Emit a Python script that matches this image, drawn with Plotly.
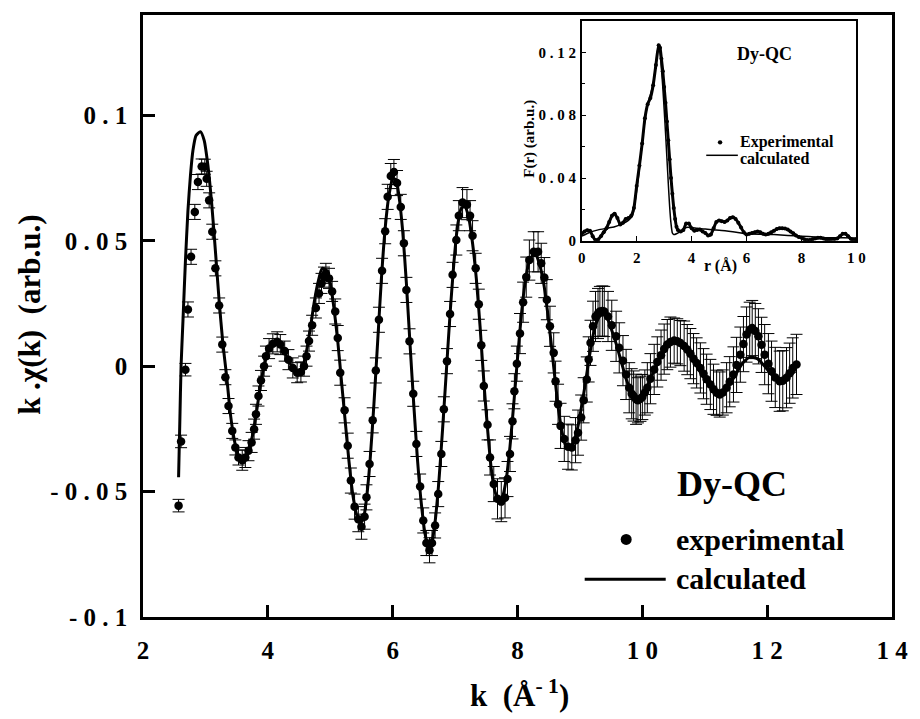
import plotly.graph_objects as go

# ---------------- main panel data: k*chi(k) ----------------
k_exp = [
    2.57, 2.61, 2.68, 2.72, 2.77, 2.83, 2.88, 2.94, 2.99, 3.02, 3.06, 3.11, 3.16, 3.22, 3.27, 3.32, 3.37, 3.43, 3.48, 3.53,
    3.59, 3.64, 3.69, 3.74, 3.78, 3.81, 3.85, 3.89, 3.94, 3.97, 4.02, 4.08, 4.15, 4.20, 4.27, 4.33, 4.40, 4.47, 4.53, 4.58,
    4.62, 4.66, 4.71, 4.77, 4.82, 4.86, 4.90, 4.93, 4.98, 5.03, 5.08, 5.12, 5.16, 5.23, 5.28, 5.33, 5.39, 5.45, 5.50, 5.55,
    5.58, 5.63, 5.68, 5.73, 5.78, 5.83, 5.88, 5.92, 5.97, 6.02, 6.07, 6.13, 6.18, 6.22, 6.27, 6.33, 6.38, 6.44, 6.49, 6.54,
    6.59, 6.63, 6.68, 6.73, 6.78, 6.82, 6.87, 6.92, 6.96, 7.02, 7.06, 7.12, 7.19, 7.24, 7.28, 7.33, 7.38, 7.42, 7.46, 7.52,
    7.56, 7.62, 7.68, 7.74, 7.80, 7.84, 7.88, 7.92, 7.95, 7.99, 8.04, 8.09, 8.14, 8.19, 8.26, 8.33, 8.38, 8.43, 8.47, 8.52,
    8.58, 8.61, 8.65, 8.69, 8.75, 8.81, 8.87, 8.93, 8.97, 9.02, 9.06, 9.11, 9.14, 9.17, 9.21, 9.25, 9.29, 9.32, 9.36, 9.39,
    9.45, 9.51, 9.58, 9.63, 9.69, 9.74, 9.79, 9.83, 9.86, 9.90, 9.93, 9.97, 10.00, 10.04, 10.08, 10.13, 10.19, 10.24, 10.30, 10.35,
    10.40, 10.45, 10.51, 10.56, 10.61, 10.67, 10.72, 10.77, 10.82, 10.87, 10.93, 10.98, 11.03, 11.09, 11.14, 11.19, 11.24, 11.29, 11.35, 11.40,
    11.46, 11.51, 11.57, 11.62, 11.67, 11.72, 11.76, 11.81, 11.86, 11.91, 11.96, 12.02, 12.07, 12.13, 12.20, 12.25, 12.31, 12.36, 12.41, 12.47,
]
chi_exp = [
    -0.0556, -0.0300, -0.0014, 0.0226, 0.0436, 0.0615, 0.0734, 0.0796, 0.0795, 0.0747, 0.0661, 0.0536, 0.0390, 0.0242, 0.0086, -0.0044, -0.0159, -0.0258, -0.0324, -0.0364,
    -0.0375, -0.0364, -0.0337, -0.0304, -0.0251, -0.0192, -0.0119, -0.0057, 0.0000, 0.0040, 0.0070, 0.0089, 0.0097, 0.0086, 0.0060, 0.0026, -0.0007, -0.0026, -0.0023, 0.0000,
    0.0040, 0.0100, 0.0163, 0.0232, 0.0290, 0.0330, 0.0355, 0.0370, 0.0350, 0.0298, 0.0218, 0.0112, -0.0026, -0.0176, -0.0317, -0.0456, -0.0560, -0.0610, -0.0640, -0.0600,
    -0.0523, -0.0390, -0.0216, -0.0017, 0.0185, 0.0380, 0.0538, 0.0675, 0.0758, 0.0774, 0.0730, 0.0635, 0.0490, 0.0304, 0.0099, -0.0110, -0.0310, -0.0480, -0.0615, -0.0705,
    -0.0734, -0.0705, -0.0635, -0.0510, -0.0350, -0.0172, 0.0020, 0.0208, 0.0364, 0.0503, 0.0600, 0.0652, 0.0644, 0.0600, 0.0520, 0.0390, 0.0247, 0.0083, -0.0079, -0.0234,
    -0.0364, -0.0470, -0.0529, -0.0540, -0.0525, -0.0450, -0.0350, -0.0220, -0.0100, 0.0010, 0.0130, 0.0255, 0.0355, 0.0423, 0.0456, 0.0456, 0.0410, 0.0353, 0.0265, 0.0159,
    0.0053, -0.0060, -0.0152, -0.0238, -0.0290, -0.0321, -0.0324, -0.0295, -0.0265, -0.0205, -0.0136, -0.0053, 0.0027, 0.0093, 0.0159, 0.0198, 0.0210, 0.0218, 0.0220, 0.0218,
    0.0198, 0.0163, 0.0119, 0.0073, 0.0022, -0.0033, -0.0086, -0.0110, -0.0119, -0.0132, -0.0136, -0.0130, -0.0123, -0.0105, -0.0086, -0.0050, -0.0013, 0.0017, 0.0044, 0.0068,
    0.0086, 0.0096, 0.0102, 0.0099, 0.0092, 0.0080, 0.0066, 0.0050, 0.0030, 0.0013, -0.0007, -0.0030, -0.0052, -0.0073, -0.0092, -0.0106, -0.0113, -0.0105, -0.0086, -0.0062,
    -0.0033, 0.0005, 0.0046, 0.0088, 0.0126, 0.0145, 0.0152, 0.0140, 0.0119, 0.0085, 0.0046, 0.0010, -0.0020, -0.0045, -0.0060, -0.0058, -0.0046, -0.0028, -0.0007, 0.0007,
]
err_exp = [
    0.0025, 0.0025, 0.0025, 0.003, 0.003, 0.003, 0.003, 0.003, 0.003, 0.003, 0.003, 0.003, 0.003, 0.003, 0.003, 0.003, 0.003, 0.003, 0.003, 0.003,
    0.004, 0.004, 0.004, 0.004, 0.004, 0.004, 0.004, 0.004, 0.004, 0.004, 0.004, 0.004, 0.004, 0.004, 0.004, 0.004, 0.004, 0.004, 0.004, 0.004,
    0.004, 0.004, 0.004, 0.004, 0.004, 0.004, 0.004, 0.004, 0.004, 0.004, 0.005, 0.005, 0.005, 0.005, 0.005, 0.005, 0.005, 0.005, 0.005, 0.005,
    0.005, 0.005, 0.005, 0.005, 0.005, 0.005, 0.005, 0.005, 0.005, 0.005, 0.005, 0.005, 0.005, 0.005, 0.005, 0.005, 0.005, 0.005, 0.005, 0.005,
    0.005, 0.005, 0.005, 0.005, 0.005, 0.005, 0.005, 0.005, 0.005, 0.006, 0.006, 0.006, 0.006, 0.006, 0.006, 0.006, 0.006, 0.006, 0.006, 0.006,
    0.007, 0.007, 0.008, 0.008, 0.008, 0.007, 0.007, 0.007, 0.007, 0.007, 0.008, 0.008, 0.008, 0.008, 0.008, 0.008, 0.008, 0.008, 0.008, 0.008,
    0.008, 0.008, 0.008, 0.009, 0.009, 0.009, 0.009, 0.009, 0.009, 0.009, 0.009, 0.009, 0.009, 0.009, 0.010, 0.010, 0.010, 0.010, 0.010, 0.010,
    0.010, 0.010, 0.010, 0.010, 0.010, 0.010, 0.010, 0.010, 0.010, 0.010, 0.009, 0.009, 0.009, 0.009, 0.010, 0.010, 0.010, 0.010, 0.010, 0.010,
    0.010, 0.010, 0.009, 0.009, 0.009, 0.010, 0.010, 0.010, 0.010, 0.010, 0.010, 0.010, 0.010, 0.010, 0.010, 0.009, 0.009, 0.009, 0.010, 0.010,
    0.011, 0.011, 0.011, 0.011, 0.011, 0.011, 0.011, 0.011, 0.011, 0.011, 0.012, 0.012, 0.012, 0.012, 0.012, 0.012, 0.012, 0.012, 0.012, 0.012,
]

k_calc = [
    2.57, 2.59, 2.61, 2.64, 2.68, 2.72, 2.76, 2.80, 2.85, 2.92, 2.98, 3.04, 3.10, 3.16, 3.22, 3.28, 3.34, 3.40, 3.46, 3.52,
    3.58, 3.64, 3.70, 3.76, 3.82, 3.88, 3.94, 4.00, 4.08, 4.16, 4.24, 4.32, 4.40, 4.48, 4.55, 4.62, 4.68, 4.74, 4.80, 4.87,
    4.94, 5.00, 5.06, 5.12, 5.18, 5.24, 5.30, 5.36, 5.42, 5.48, 5.53, 5.58, 5.64, 5.70, 5.76, 5.82, 5.88, 5.94, 6.00, 6.05,
    6.10, 6.16, 6.22, 6.28, 6.34, 6.40, 6.46, 6.52, 6.58, 6.63, 6.68, 6.74, 6.80, 6.86, 6.92, 6.98, 7.04, 7.10, 7.16, 7.22,
    7.28, 7.34, 7.40, 7.46, 7.52, 7.58, 7.64, 7.70, 7.76, 7.82, 7.88, 7.94, 8.00, 8.06, 8.12, 8.18, 8.24, 8.30, 8.36, 8.42,
    8.48, 8.54, 8.60, 8.66, 8.72, 8.78, 8.84, 8.90, 8.96, 9.02, 9.08, 9.14, 9.20, 9.26, 9.32, 9.38, 9.44, 9.50, 9.58, 9.66,
    9.74, 9.82, 9.90, 9.98, 10.08, 10.20, 10.32, 10.44, 10.56, 10.68, 10.80, 10.92, 11.04, 11.16, 11.26, 11.36, 11.48, 11.60, 11.72, 11.84,
    11.96, 12.08, 12.20, 12.32, 12.45,
]
chi_calc = [
    -0.0443, -0.0220, 0.0000, 0.0180, 0.0420, 0.0620, 0.0760, 0.0860, 0.0920, 0.0935, 0.0900, 0.0800, 0.0650, 0.0460, 0.0260, 0.0090, -0.0040, -0.0190, -0.0290, -0.0355,
    -0.0378, -0.0365, -0.0330, -0.0270, -0.0180, -0.0080, 0.0000, 0.0060, 0.0092, 0.0096, 0.0070, 0.0030, -0.0008, -0.0028, -0.0010, 0.0060, 0.0150, 0.0250, 0.0330, 0.0390,
    0.0380, 0.0330, 0.0230, 0.0100, -0.0060, -0.0220, -0.0380, -0.0510, -0.0590, -0.0625, -0.0610, -0.0530, -0.0370, -0.0150, 0.0100, 0.0350, 0.0550, 0.0680, 0.0745, 0.0745,
    0.0680, 0.0540, 0.0330, 0.0080, -0.0160, -0.0380, -0.0550, -0.0670, -0.0725, -0.0700, -0.0620, -0.0460, -0.0250, -0.0020, 0.0210, 0.0410, 0.0560, 0.0630, 0.0635, 0.0590,
    0.0490, 0.0350, 0.0160, -0.0060, -0.0250, -0.0410, -0.0500, -0.0535, -0.0520, -0.0450, -0.0320, -0.0150, 0.0030, 0.0200, 0.0330, 0.0410, 0.0440, 0.0440, 0.0400, 0.0330,
    0.0220, 0.0090, -0.0050, -0.0180, -0.0270, -0.0320, -0.0325, -0.0300, -0.0250, -0.0170, -0.0080, 0.0020, 0.0110, 0.0170, 0.0200, 0.0205, 0.0190, 0.0150, 0.0090, 0.0020,
    -0.0050, -0.0100, -0.0130, -0.0125, -0.0080, -0.0010, 0.0050, 0.0085, 0.0095, 0.0075, 0.0030, -0.0020, -0.0065, -0.0095, -0.0105, -0.0085, -0.0040, 0.0010, 0.0035, 0.0030,
    0.0000, -0.0035, -0.0050, -0.0045, -0.0020,
]

# ---------------- inset data: F(r) ----------------
r_exp = [
    0.0, 0.1, 0.2, 0.3, 0.4, 0.5, 0.6, 0.7, 0.8, 0.9, 1.0, 1.1, 1.2, 1.3, 1.4, 1.5, 1.6, 1.7, 1.8, 1.9,
    2.0, 2.1, 2.2, 2.3, 2.4, 2.5, 2.6, 2.7, 2.8, 2.85, 2.9, 2.95, 3.0, 3.05, 3.1, 3.15, 3.2, 3.25, 3.3, 3.35,
    3.4, 3.45, 3.5, 3.6, 3.7, 3.8, 3.9, 4.0, 4.1, 4.2, 4.3, 4.4, 4.5, 4.6, 4.7, 4.8, 4.9, 5.0, 5.1, 5.2,
    5.3, 5.4, 5.5, 5.6, 5.7, 5.8, 5.9, 6.0, 6.1, 6.2, 6.3, 6.4, 6.5, 6.6, 6.7, 6.8, 6.9, 7.0, 7.1, 7.2,
    7.3, 7.4, 7.5, 7.6, 7.7, 7.8, 7.9, 8.0, 8.1, 8.2, 8.3, 8.4, 8.5, 8.6, 8.7, 8.8, 8.9, 9.0, 9.1, 9.2,
    9.3, 9.4, 9.5, 9.6, 9.7, 9.8, 9.9, 10.0,
]
F_exp = [
    0.0045, 0.0060, 0.0068, 0.0065, 0.0030, 0.0005, 0.0008, 0.0030, 0.0055, 0.0080, 0.0120, 0.0160, 0.0172, 0.0145, 0.0105, 0.0115, 0.0140, 0.0145, 0.0160, 0.0210,
    0.0350, 0.0480, 0.0620, 0.0780, 0.0870, 0.0910, 0.0990, 0.1120, 0.1245, 0.1230, 0.1160, 0.1080, 0.0980, 0.0880, 0.0760, 0.0640, 0.0520, 0.0400, 0.0300, 0.0210,
    0.0140, 0.0090, 0.0070, 0.0060, 0.0070, 0.0110, 0.0110, 0.0080, 0.0065, 0.0070, 0.0072, 0.0060, 0.0050, 0.0035, 0.0040, 0.0080, 0.0120, 0.0130, 0.0125, 0.0120,
    0.0130, 0.0145, 0.0150, 0.0140, 0.0115, 0.0085, 0.0055, 0.0040, 0.0045, 0.0050, 0.0055, 0.0060, 0.0055, 0.0045, 0.0040, 0.0045, 0.0055, 0.0065, 0.0075, 0.0080,
    0.0080, 0.0078, 0.0072, 0.0060, 0.0048, 0.0035, 0.0025, 0.0020, 0.0010, 0.0005, 0.0005, 0.0010, 0.0015, 0.0020, 0.0020, 0.0015, 0.0010, 0.0010, 0.0012, 0.0012,
    0.0015, 0.0030, 0.0045, 0.0045, 0.0030, 0.0012, 0.0005, 0.0010,
]
r_calc = [
    0.0, 0.3, 0.6, 0.9, 1.2, 1.5, 1.7, 1.85, 2.0, 2.1, 2.2, 2.3, 2.4, 2.5, 2.6, 2.7, 2.78, 2.85, 2.9, 2.95,
    3.0, 3.05, 3.1, 3.15, 3.2, 3.25, 3.3, 3.35, 3.45, 3.6, 3.8, 4.0, 4.2, 4.5, 4.8, 5.0, 5.5, 6.0, 6.5, 7.0,
    7.5, 8.0, 8.5, 9.0, 9.5, 10.0,
]
F_calc = [
    0.0030, 0.0055, 0.0070, 0.0080, 0.0090, 0.0110, 0.0130, 0.0160, 0.0320, 0.0460, 0.0620, 0.0770, 0.0870, 0.0930, 0.1000, 0.1120, 0.1235, 0.1200, 0.1100, 0.0980,
    0.0840, 0.0690, 0.0530, 0.0370, 0.0220, 0.0110, 0.0050, 0.0040, 0.0045, 0.0060, 0.0085, 0.0085, 0.0080, 0.0075, 0.0070, 0.0068, 0.0058, 0.0045, 0.0042, 0.0040,
    0.0035, 0.0030, 0.0025, 0.0020, 0.0020, 0.0018,
]

# ---------------- figure ----------------
FONT = "Liberation Serif"
W, H = 920, 719
ML, MR, MT, MB = 143, 19, 12, 102
PW, PH = W - ML - MR, H - MT - MB


def px(x):
    return (x - ML) / PW


def py(y):
    return (H - MB - y) / PH


fig = go.Figure()

fig.add_trace(go.Scatter(
    x=k_calc, y=chi_calc, mode="lines",
    line=dict(color="black", width=3, shape="spline", smoothing=0.6),
    showlegend=False, xaxis="x", yaxis="y"))

fig.add_trace(go.Scatter(
    x=k_exp, y=chi_exp, mode="markers",
    marker=dict(color="black", size=8.5, symbol="circle"),
    error_y=dict(type="data", array=err_exp, visible=True, color="black", thickness=1, width=6),
    showlegend=False, xaxis="x", yaxis="y"))

fig.add_trace(go.Scatter(
    x=r_calc, y=F_calc, mode="lines",
    line=dict(color="black", width=1.5, shape="spline", smoothing=0.5),
    showlegend=False, xaxis="x2", yaxis="y2"))

fig.add_trace(go.Scatter(
    x=r_exp, y=F_exp, mode="lines+markers",
    line=dict(color="black", width=3, shape="spline", smoothing=0.5),
    marker=dict(color="black", size=4),
    showlegend=False, xaxis="x2", yaxis="y2"))

tick_font = dict(family=FONT, size=25, color="black", weight="bold")
inset_font = dict(family=FONT, size=15, color="black", weight="bold")

fig.update_layout(
    width=W, height=H,
    margin=dict(l=ML, r=MR, t=MT, b=MB),
    paper_bgcolor="white", plot_bgcolor="white",
    font=dict(family=FONT, color="black"),
    showlegend=False,
    xaxis=dict(
        domain=[0, 1], anchor="y", range=[2, 14],
        tickmode="array", tickvals=[2, 4, 6, 8, 10, 12, 14],
        ticktext=["2", "4", "6", "8", "1 0", "1 2", "1 4"],
        ticks="inside", ticklen=12, tickwidth=2.5, tickcolor="black",
        showline=True, linewidth=2.5, linecolor="black", mirror=True,
        showgrid=False, zeroline=False, tickfont=tick_font, ticklabelstandoff=9,
    ),
    yaxis=dict(
        domain=[0, 1], anchor="x", range=[-0.1, 0.14],
        tickmode="array", tickvals=[-0.1, -0.05, 0, 0.05, 0.1],
        ticktext=["- 0 . 1", "- 0 . 0 5", "0", "0 . 0 5", "0 . 1"],
        ticks="inside", ticklen=12, tickwidth=2.5, tickcolor="black",
        showline=True, linewidth=2.5, linecolor="black", mirror=True,
        showgrid=False, zeroline=False, tickfont=tick_font, ticklabelstandoff=8,
    ),
    xaxis2=dict(
        domain=[px(587), px(865)], anchor="y2", range=[0, 10],
        tickmode="array", tickvals=[0, 2, 4, 6, 8, 10],
        ticktext=["0", "2", "4", "6", "8", "1 0"],
        ticks="inside", ticklen=5, tickwidth=1.2, tickcolor="black",
        showline=True, linewidth=1.5, linecolor="black", mirror=True,
        showgrid=False, zeroline=False, tickfont=inset_font, ticklabelstandoff=2,
    ),
    yaxis2=dict(
        domain=[py(239), py(18)], anchor="x2", range=[0, 0.14],
        tickmode="array", tickvals=[0, 0.04, 0.08, 0.12],
        ticktext=["0", "0 . 0 4", "0 . 0 8", "0 . 1 2"],
        ticks="inside", ticklen=5, tickwidth=1.2, tickcolor="black",
        minor=dict(tickvals=[0.02, 0.06, 0.10], ticks="inside", ticklen=4, tickwidth=1, tickcolor="black"),
        showline=True, linewidth=1.5, linecolor="black", mirror=True,
        showgrid=False, zeroline=False, tickfont=inset_font, ticklabelstandoff=1,
    ),
)


def ann(text, x, y, size, xanchor="center", angle=0):
    fig.add_annotation(
        text=text, x=x, y=y, xref="paper", yref="paper",
        xanchor=xanchor, yanchor="middle", showarrow=False, textangle=angle,
        font=dict(family=FONT, size=size, color="black", weight="bold"))


# axis titles
ann("k\u00a0.\u03c7(k)\u00a0\u00a0(arb.u.)", px(28), py(313), 31, angle=-90)
ann("k\u00a0\u00a0(\u00c5<sup>-\u00a01</sup>)", px(524), py(694), 31)

# main legend block
ann("Dy-QC", px(739), py(483), 36)
ann("experimental", px(680), py(539), 30, xanchor="left")
ann("calculated", px(680), py(578), 30, xanchor="left")
fig.add_shape(type="circle", xref="paper", yref="paper",
              xsizemode="pixel", ysizemode="pixel",
              xanchor=px(632), yanchor=py(539), x0=-5.5, x1=5.5, y0=-5.5, y1=5.5,
              fillcolor="black", line=dict(color="black", width=0))
fig.add_shape(type="line", xref="paper", yref="paper",
              x0=px(590), x1=px(672), y0=py(579), y1=py(579),
              line=dict(color="black", width=3))

# inset texts
ann("F(r) (arb.u.)", px(534), py(136), 15, angle=-90)
ann("r (\u00c5)", px(727), py(264), 16)
ann("Dy-QC", px(772), py(51), 18)
ann("Experimental", px(745), py(140), 16, xanchor="left")
ann("calculated", px(745), py(156), 16, xanchor="left")
fig.add_shape(type="circle", xref="paper", yref="paper",
              xsizemode="pixel", ysizemode="pixel",
              xanchor=px(727), yanchor=py(140), x0=-2.2, x1=2.2, y0=-2.2, y1=2.2,
              fillcolor="black", line=dict(color="black", width=0))
fig.add_shape(type="line", xref="paper", yref="paper",
              x0=px(713), x1=px(745), y0=py(153), y1=py(153),
              line=dict(color="black", width=1.5))

fig.write_html("out.html")
